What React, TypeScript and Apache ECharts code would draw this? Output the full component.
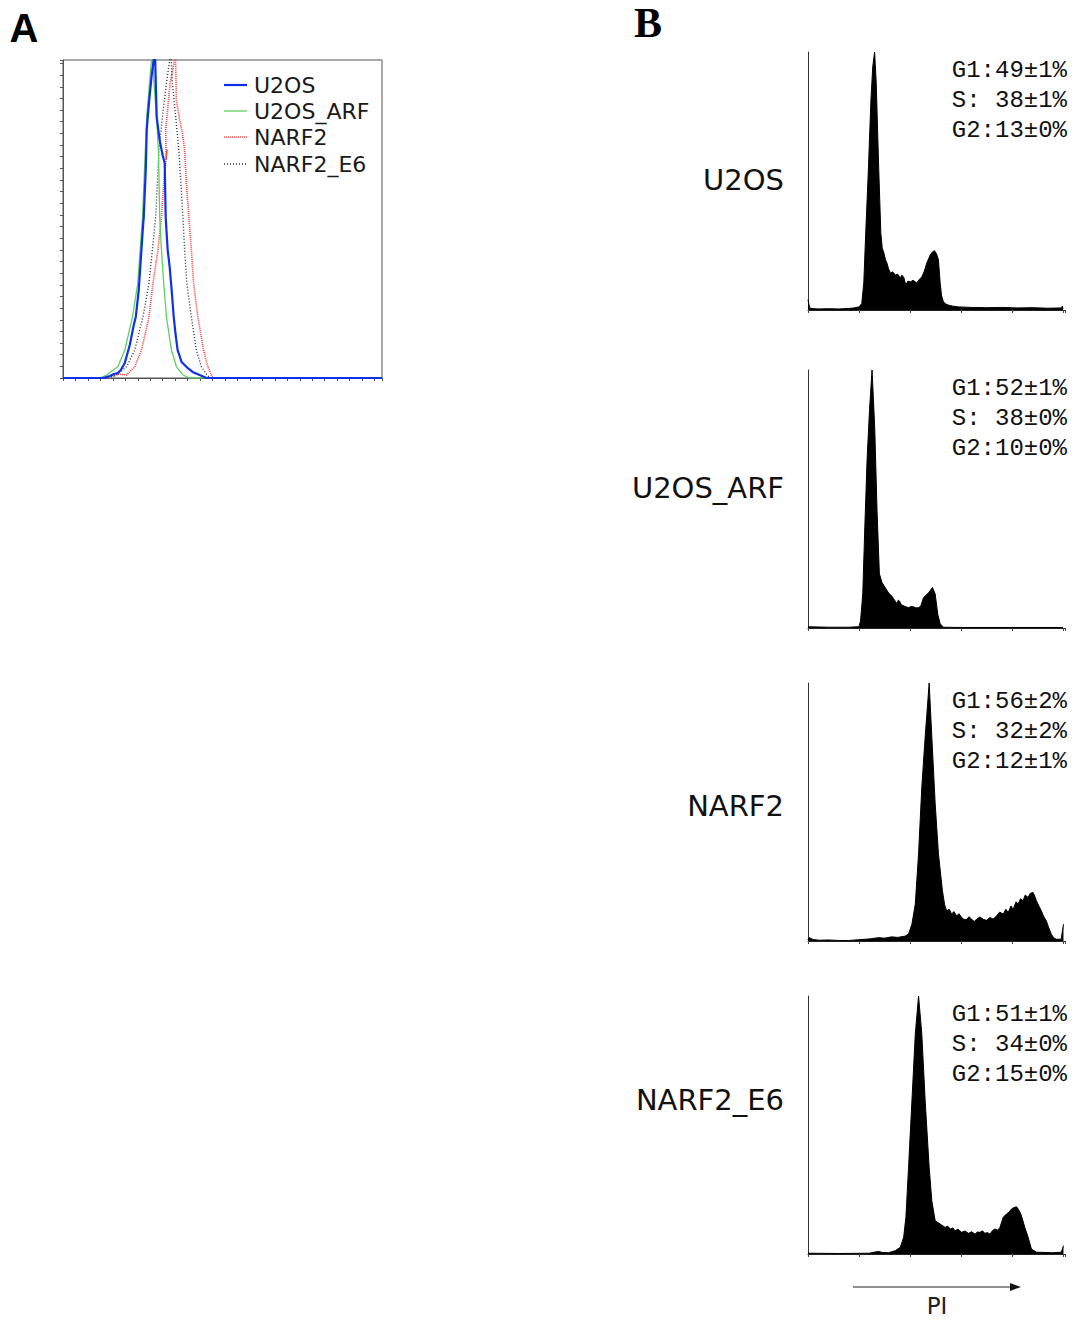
import React, { useEffect, useRef } from "react";
import * as echarts from "echarts";

// ---------- Panel A: overlay histograms (channel, count) ----------
const A_SERIES_NAMES = ["U2OS", "U2OS_ARF", "NARF2", "NARF2_E6"];

const A_U2OS: number[][] = [
  [0, 0], [32, 0], [37.6, 1.7], [40.8, 3.4], [44, 4.3], [46.4, 6.9], [49.6, 12.9], [52, 22.3],
  [53.6, 28.3], [56.8, 45.5], [58.4, 52.4], [60.8, 75.5], [62.4, 101.3], [64, 127], [64.8, 138.2],
  [66.4, 178.6], [67.2, 212.9], [68, 224], [69.6, 243], [71.2, 260], [72.8, 273], [73.6, 290],
  [74.4, 256], [75.2, 224], [77.6, 204], [80, 191], [81.6, 184.6], [82.4, 138], [84, 110],
  [85.6, 95.3], [87.2, 75.5], [88.8, 53.2], [90.4, 36.9], [92, 24], [95.2, 13.7], [99.2, 9.4],
  [104, 5.2], [109.6, 2.6], [115.2, 0], [256, 0],
];

const A_U2OS_ARF: number[][] = [
  [0, 0], [29.6, 0], [35, 2.6], [44, 9.7], [49.6, 24], [55.8, 52.6], [60, 81.3], [63.8, 138.5],
  [67.2, 224.3], [69.6, 255.8], [71, 273], [71.6, 290], [73, 253], [75, 224.3], [76.6, 195.7],
  [77.6, 138.5], [79, 110], [80.8, 81.3], [83, 52.6], [87, 24], [91, 9.7], [96.2, 2.6],
  [101.6, 0], [256, 0],
];

const A_NARF2: number[][] = [
  [0, 0], [37.6, 0], [44, 3.4], [51, 2.6], [57.6, 9.7], [63, 24], [69, 52.6], [72.2, 81.3],
  [76.2, 110], [79, 138.5], [80.8, 167], [83.4, 195.7], [82.8, 188], [82.4, 213], [86, 253],
  [89.6, 273], [90, 290], [91, 238.6], [93.6, 221.5], [95.8, 210], [97.6, 195.7], [99, 167],
  [101, 138.5], [103, 110], [104.8, 81.3], [108.2, 52.6], [112.8, 24], [116.2, 9.7],
  [120.2, 0], [256, 0],
];

const A_NARF2_E6: number[][] = [
  [0, 0], [33.6, 0], [43, 2.6], [51, 9.7], [57.6, 24], [64.2, 52.6], [69, 81.3], [74.4, 138.5],
  [77, 195.7], [79.8, 224.3], [83, 253], [85.6, 273], [86, 290], [87.8, 253], [90.4, 224.3],
  [93, 195.7], [96.2, 138.5], [97.6, 110], [99.4, 81.3], [103, 52.6], [107, 24], [111, 9.7],
  [116.2, 1.7], [119.2, 0], [256, 0],
];

// ---------- Panel B: cell-cycle histograms (PI channel, % of max) ----------
const B_LABELS = ["U2OS", "U2OS_ARF", "NARF2", "NARF2_E6"];

const B_STATS: string[][] = [
  ["G1:49±1%", "S: 38±1%", "G2:13±0%"],
  ["G1:52±1%", "S: 38±0%", "G2:10±0%"],
  ["G1:56±2%", "S: 32±2%", "G2:12±1%"],
  ["G1:51±1%", "S: 34±0%", "G2:15±0%"],
];

const B_U2OS: number[][] = [
  [0, 4], [1.5, 1], [3, 0.6], [10, 0.4], [20, 0.5], [30, 0.4], [40, 0.6], [45, 0.8], [50, 1.2],
  [52.7, 2.5], [54.7, 10.5], [56.6, 29.8], [59.3, 55.4], [61.7, 81.4], [63.5, 94.3], [65.3, 100],
  [66.9, 88], [69.3, 55.4], [71.4, 29.8], [72.8, 24], [74.4, 22.1], [76, 19.5], [77.4, 18.2],
  [79, 16], [80.8, 14.3], [83, 14.8], [85.6, 13.6], [88, 13.9], [90.5, 12.4], [92, 13.5],
  [93.8, 12.8], [95, 11], [96, 9.7], [98, 11.2], [100.3, 10.9], [103, 11.5], [106.7, 10.5],
  [109, 11.8], [111.6, 12.8], [114, 15], [116.5, 18.2], [119.8, 21.3], [122, 22.5], [124, 23],
  [126, 21.8], [127.9, 19.4], [129.6, 10.5], [131, 5.5], [132.8, 3.2], [135, 2.3], [137.7, 1.9],
  [142, 1.5], [147.5, 1.2], [160, 1], [175, 0.9], [190, 1], [205, 0.8], [220, 0.9], [235, 0.7],
  [248, 0.8], [249.5, 1.5], [250, 0.5],
];

const B_U2OS_ARF: number[][] = [
  [0, 0.5], [20, 0.3], [40, 0.3], [50, 0.5], [51.5, 2.7], [53.7, 13.2], [55.7, 39], [57.9, 65],
  [60.3, 84.4], [62.8, 100], [65.4, 78], [67.7, 45.5], [70, 21], [72.6, 17.6], [74.5, 16.4],
  [76.5, 15.2], [78, 14.2], [79.8, 13.2], [82, 12.5], [84, 11.3], [86, 10.2], [87.2, 9.3],
  [88.5, 10.8], [89.6, 10.5], [91.5, 9], [93.8, 8.6], [96, 8.2], [98.6, 7.9], [101, 8.3],
  [103.5, 8.2], [106, 7.8], [108.4, 7.9], [110.5, 8.4], [113.3, 11.8], [116, 12.8], [118.2, 13.7],
  [120, 14.6], [122, 15.7], [124.7, 13.2], [127.2, 5.4], [129.6, 1.6], [132.8, 0.3], [150, 0.2],
  [200, 0.2], [250, 0.2],
];

const B_NARF2: number[][] = [
  [0, 0.5], [1, 1.3], [5, 0.6], [10.7, 0.3], [20, 0.4], [30, 0.2], [40, 0.2], [50, 0.5], [60, 0.8],
  [69.3, 1.3], [75, 1.1], [82, 1.6], [88, 1.4], [95.4, 1.9], [98.6, 2.7], [101.9, 6.5], [105.2, 14.3],
  [108.4, 33.8], [111.6, 59.7], [114.9, 79.2], [118.8, 100], [121.4, 79.2], [124.7, 53.3],
  [127.9, 33.8], [131.8, 19.5], [134, 14], [136, 11.7], [138.5, 12.3], [140.9, 10.4], [143, 11.4],
  [145.8, 9.7], [148, 10.6], [150.7, 9.1], [153, 8.3], [155.6, 8.4], [158, 9.4], [160.4, 8.4],
  [163, 7.6], [165.3, 8.4], [168.5, 9.3], [171.9, 8.4], [175, 8.0], [178.4, 9.1], [181.5, 8.5],
  [184.9, 9.7], [188, 11.2], [191.4, 10.4], [194, 12.3], [196.3, 11], [199, 13.6], [201.2, 12.3],
  [204, 15.2], [206, 14.3], [208.5, 16.4], [210.9, 15.6], [213, 17.8], [215.8, 16.9], [218, 18.5],
  [220.7, 18.8], [222.5, 17.2], [224, 15.6], [226.5, 13.5], [228.8, 11.7], [231, 9.6], [233.7, 7.8],
  [236, 5.2], [238.6, 2.6], [241, 1.2], [243.5, 0.7], [248.3, 0.7], [249.5, 4], [250.5, 6.5],
];

const B_NARF2_E6: number[][] = [
  [0, 0.3], [30, 0.2], [60, 0.3], [66, 0.8], [69.3, 1], [73, 0.6], [79, 0.5], [85.6, 1.3],
  [90.5, 2.6], [93.8, 6.5], [96, 14.2], [98.6, 33.6], [101.9, 59.3], [105.2, 85.2], [108.4, 100],
  [111.6, 85.2], [114.9, 59.3], [118.8, 33.6], [121.4, 20.6], [124.7, 12.9], [127, 12.3],
  [129.6, 11.6], [132, 11.0], [134.5, 10.3], [137, 10.8], [139.4, 9.7], [142, 10.1], [144.2, 9],
  [147, 9.6], [150.7, 8.4], [154, 8.9], [157.2, 8], [160.5, 8.6], [163.8, 7.7], [166, 8.5],
  [168.7, 8.4], [171, 9.0], [173.5, 8], [176, 8.3], [178.4, 7.7], [181, 9.1], [183.3, 9.7],
  [186, 9.2], [188.2, 10.3], [191.4, 14.2], [194.6, 15.5], [197, 16.2], [199.5, 17.4], [202, 18],
  [204.4, 18.3], [206.5, 17.2], [208.7, 15.5], [210.5, 13.2], [212.6, 10.3], [215.8, 6.5],
  [219.1, 1.9], [224, 0.7], [240, 0.5], [248.3, 0.7], [249.5, 2], [250.5, 3.2],
];

const B_DATA = [B_U2OS, B_U2OS_ARF, B_NARF2, B_NARF2_E6];

const A_STYLES: Record<string, { color: string; width: number; dash: any }> = {
  U2OS: { color: "#1030e8", width: 2.2, dash: "solid" },
  U2OS_ARF: { color: "#5fcf5f", width: 1.3, dash: "solid" },
  NARF2: { color: "#f04848", width: 1.7, dash: [1, 1] },
  NARF2_E6: { color: "#333333", width: 1.4, dash: [1, 2] },
};

export default function App() {
  const ref = useRef<HTMLDivElement>(null);

  useEffect(() => {
    if (!ref.current) return;
    const chart = echarts.init(ref.current, null, { renderer: "svg" });

    const bTops = [52, 370, 683, 996];
    const bH = 258;

    const grids: any[] = [
      { left: 63, top: 60, width: 319, height: 318, show: true, borderColor: "#555", borderWidth: 1, backgroundColor: "transparent" },
      ...bTops.map((t) => ({ left: 808, top: t, width: 257, height: bH })),
    ];

    const xAxes: any[] = [
      {
        gridIndex: 0, type: "value", min: 0, max: 256, interval: 10,
        axisLine: { show: true, lineStyle: { color: "#555", width: 1 } },
        axisTick: { show: true, length: 3, lineStyle: { color: "#555" } },
        axisLabel: { show: false }, splitLine: { show: false },
      },
      ...bTops.map((_, i) => ({
        gridIndex: i + 1, type: "value", min: 0, max: 252, interval: 50,
        axisLine: { show: true, lineStyle: { color: "#222", width: 1 } },
        axisTick: { show: true, length: 3, lineStyle: { color: "#444" } },
        axisLabel: { show: false }, splitLine: { show: false },
      })),
    ];

    const yAxes: any[] = [
      {
        gridIndex: 0, type: "value", min: 0, max: 273, interval: 10,
        axisLine: { show: true, lineStyle: { color: "#555", width: 1 } },
        axisTick: { show: true, length: 3, lineStyle: { color: "#555" } },
        axisLabel: { show: false }, splitLine: { show: false },
      },
      ...bTops.map((_, i) => ({
        gridIndex: i + 1, type: "value", min: 0, max: 100,
        axisLine: { show: true, lineStyle: { color: "#333", width: 1 } },
        axisTick: { show: false },
        axisLabel: { show: false }, splitLine: { show: false },
      })),
    ];

    const aLine = (name: string, data: number[][], z: number) => {
      const s = A_STYLES[name];
      return {
        name, type: "line", xAxisIndex: 0, yAxisIndex: 0, data, symbol: "none", showSymbol: false,
        lineStyle: { color: s.color, width: s.width, type: s.dash }, itemStyle: { color: s.color }, z, clip: true,
      };
    };

    const series: any[] = [
      aLine("NARF2", A_NARF2, 2),
      aLine("NARF2_E6", A_NARF2_E6, 3),
      aLine("U2OS_ARF", A_U2OS_ARF, 4),
      aLine("U2OS", A_U2OS, 5),
      ...B_DATA.map((d, i) => ({
        name: "B_" + B_LABELS[i], type: "line", xAxisIndex: i + 1, yAxisIndex: i + 1, data: d,
        symbol: "none", showSymbol: false,
        lineStyle: { color: "#000", width: 1 }, areaStyle: { color: "#000", opacity: 1 },
        itemStyle: { color: "#000" },
      })),
    ];

    const txt = (text: string, x: number, y: number, size: number, family: string, align: string, weight: string = "normal", color = "#111") => ({
      type: "text", x, y, silent: true,
      style: {
        text, fill: color, fontSize: size, fontFamily: family, fontWeight: weight,
        font: `${weight} ${size}px ${family}`,
        align, textAlign: align, verticalAlign: "middle", textVerticalAlign: "middle",
      },
    });

    const graphics: any[] = [
      txt("A", 24, 28, 40, '"Liberation Sans"', "center", "bold", "#000"),
      txt("B", 648, 23, 42, '"Liberation Serif"', "center", "bold", "#000"),
    ];

    // legend for panel A
    const legY = [85, 111, 137, 164];
    A_SERIES_NAMES.forEach((n, i) => {
      const s = A_STYLES[n];
      graphics.push({
        type: "line", silent: true,
        shape: { x1: 224, y1: legY[i], x2: 247, y2: legY[i] },
        style: { stroke: s.color, lineWidth: s.width, lineDash: s.dash === "solid" ? null : s.dash },
      });
      graphics.push(txt(n, 254, legY[i], 22, '"DejaVu Sans"', "left", "normal", "#1a1a1a"));
    });

    const labelY = [180, 488, 806, 1100];
    B_LABELS.forEach((l, i) => graphics.push(txt(l, 784, labelY[i], 29, '"DejaVu Sans"', "right", "normal", "#111")));
    B_STATS.forEach((lines, i) => {
      lines.forEach((s, j) => graphics.push(txt(s, 1067, bTops[i] + 18 + j * 30, 24, '"Liberation Mono"', "right", "normal", "#111")));
    });
    graphics.push({ type: "line", silent: true, shape: { x1: 853, y1: 1287, x2: 1012, y2: 1287 }, style: { stroke: "#222", lineWidth: 1.2 } });
    graphics.push({ type: "polygon", silent: true, shape: { points: [[1010, 1283], [1021, 1287], [1010, 1291]] }, style: { fill: "#111" } });
    graphics.push(txt("PI", 937, 1306, 23, '"DejaVu Sans"', "center", "normal", "#222"));

    chart.setOption({
      animation: false,
      backgroundColor: "#fff",
      grid: grids,
      xAxis: xAxes,
      yAxis: yAxes,
      series,
      graphic: graphics,
    });

    return () => chart.dispose();
  }, []);

  return <div ref={ref} style={{ position: "absolute", left: 0, top: 0, width: 1074, height: 1322 }} />;
}
